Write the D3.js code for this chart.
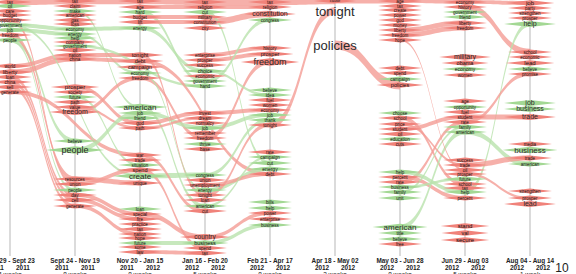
<!DOCTYPE html>
<html>
<head>
<meta charset="utf-8">
<script src="https://cdn.jsdelivr.net/npm/d3@7"></script>
<style>
  body { margin: 0; background: #fff; }
  svg { display: block; font-family: "Liberation Sans", Arial, sans-serif; }
</style>
</head>
<body>
<svg id="chart" width="576" height="274"></svg>
<script>
// time periods (columns)
var periods = ["Aug 29 - Sept 23", "Sept 24 - Nov 19", "Nov 20 - Jan 15", "Jan 16 - Feb 20",
    "Feb 21 - Apr 17", "Apr 18 - May 02", "May 03 - Jun 28", "Jun 29 - Aug 03", "Aug 04 - Aug 14"];
var startYears = ["2011", "2011", "2011", "2012", "2012", "2012", "2012", "2012", "2012"];
var endYears = ["2011", "2011", "2012", "2012", "2012", "2012", "2012", "2012", "2012"];
var spans = ["4 weeks", "8 weeks", "8 weeks", "5 weeks", "8 weeks", "2 weeks", "8 weeks", "5 weeks", "1 week"];

// words per column: [text, rank position, tone, font size]
var words0 = [["tax", 1, "r"], ["oil", 5, "g"], ["care", 10, "r"], ["budget", 14, "r"], ["opportunity", 19, "r"],
    ["government", 24, "g"], ["job", 29, "g"], ["freedom", 34, "r"], ["people", 39, "g"],
    ["world", 65, "r"], ["liberty", 71, "r", 5.5], ["loan", 76, "r"], ["china", 81, "r"], ["sell", 86, "r"], ["generate", 91, "r"]];
var words1 = [["tax", 0, "r"], ["claim", 5, "r"], ["make", 10, "g"], ["american", 14, "r"], ["gas", 19, "r"], ["loss", 23, "r"],
    ["economy", 28, "g"], ["energy", 33, "g"], ["help", 37, "g"], ["company", 41, "r"], ["government", 45, "g"],
    ["oil", 49, "r"], ["nation", 54, "r"], ["china", 58, "r"],
    ["prosper", 86, "r", 6], ["society", 91, "r"], ["future", 96, "g"], ["path", 101, "r"], ["value", 106, "r"], ["freedom", 111, "r", 7],
    ["believe", 140, "g"], ["people", 149, "g", 9],
    ["resources", 178, "r"], ["union", 183, "r"], ["people", 189, "g"], ["day", 194, "r"], ["cell", 199, "r"], ["generate", 205, "r"]];
var words2 = [["tax", 0, "r"], ["age", 6, "r"], ["hard", 11, "g"], ["budget", 16, "r"], ["lift", 21, "r"], ["energy", 27, "g"],
    ["tonight", 54, "r", 5.5], ["debt", 60, "r", 5.5], ["campaign", 66, "r", 5.5], ["economy", 72, "g"], ["freedom", 77, "r"],
    ["american", 106, "g", 8], ["job", 112, "g"], ["friend", 117, "g"], ["god", 122, "r"], ["path", 127, "r"],
    ["war", 154, "r"], ["trade", 159, "r"], ["situation", 164, "g"], ["spend", 169, "r", 5.5], ["create", 175, "g", 8], ["unique", 182, "r"],
    ["loan", 208, "g"], ["special", 213, "r"], ["fire", 218, "r"], ["practice", 223, "r"], ["tax", 228, "r"], ["nation", 233, "r"],
    ["hope", 237, "r"], ["future", 242, "g"], ["some", 246, "r"], ["law", 251, "r"]];
var words3 = [["tax", 1, "r"], ["religion", 6, "r"], ["cut", 11, "g"], ["military", 16, "r"], ["constitution", 21, "r"], ["city", 27, "r"],
    ["enterprise", 54, "r"], ["prosper", 59, "r"], ["success", 64, "r"], ["choice", 70, "g", 5], ["economic", 75, "r"],
    ["government", 80, "g"], ["hand", 85, "g"],
    ["invest", 112, "r"], ["dream", 117, "r"], ["normalcy", 122, "r"], ["job", 127, "g"], ["remember", 132, "r"], ["freedom", 137, "r"],
    ["thrive", 143, "g"], ["base", 148, "r"],
    ["congress", 174, "g"], ["union", 179, "r"], ["unemployment", 184, "r"], ["energy", 189, "g"], ["tonight", 194, "r"],
    ["loan", 199, "r"], ["american", 205, "g"], ["cut", 210, "r"],
    ["country", 236, "r", 6.5], ["business", 242, "g", 5.5], ["spend", 247, "r"], ["tax", 252, "r"]];
var words4 = [["tax", 1, "r"], ["religion", 6, "r"], ["constitution", 13, "r", 7], ["congress", 19, "g"],
    ["history", 47, "r"], ["prosper", 53, "r", 5.5], ["freedom", 61, "r", 9],
    ["believe", 89, "g"], ["idea", 94, "g"], ["fuel", 99, "r"], ["women", 104, "r"], ["economy", 109, "r"], ["job", 114, "g"],
    ["thank", 119, "g"], ["tonight", 124, "r"],
    ["rate", 151, "r"], ["campaign", 156, "g"], ["cut", 162, "g"], ["energy", 168, "g", 5], ["debt", 173, "r"],
    ["bills", 201, "g"], ["help", 207, "g"], ["power", 212, "r"], ["enterprise", 218, "r"], ["business", 224, "g"]];
var words5 = [["cause", 0, "r", 4], ["tonight", 10, "r", 13], ["policies", 44, "r", 13]];
var words6 = [["age", 0, "r"], ["tax", 5, "r"], ["create", 9, "r"], ["power", 14, "r"], ["god", 19, "r"], ["money", 24, "r"],
    ["liberty", 29, "r"], ["freedom", 34, "r"], ["hope", 39, "r"],
    ["debt", 67, "r"], ["spend", 72, "r"], ["campaign", 78, "g"], ["policies", 84, "r", 5.5],
    ["choose", 112, "g"], ["school", 117, "r"], ["price", 123, "r"], ["student", 128, "r"], ["oil", 133, "r"], ["education", 138, "g"], ["cuts", 143, "r"],
    ["help", 171, "g"], ["percent", 176, "r"], ["rate", 181, "r"], ["business", 186, "g"], ["family", 191, "g"], ["unit", 197, "g"],
    ["american", 226, "g", 8], ["title", 232, "g"], ["believe", 238, "g"], ["free", 243, "r"]];
var words7 = [["economy", 1, "r"], ["history", 6, "r"], ["government", 11, "g"], ["friend", 16, "g"], ["liberty", 22, "r"], ["freedom", 27, "r"],
    ["military", 56, "r", 7], ["obama", 62, "r", 5.5], ["economy", 68, "g", 5], ["women", 74, "r"],
    ["age", 100, "r"], ["opportunity", 106, "g"], ["fuel", 111, "r"], ["student", 116, "r"], ["rate", 121, "r"], ["family", 126, "g"], ["american", 131, "g"],
    ["success", 159, "r"], ["trade", 164, "r"], ["oil", 169, "r"], ["prosper", 173, "r"], ["future", 178, "g"], ["school", 183, "r"],
    ["tax", 187, "r"], ["help", 191, "g"], ["percent", 197, "r"],
    ["stand", 225, "r", 6], ["val", 232, "r", 5.5], ["secure", 239, "r", 6]];
var words8 = [["job", 2, "r", 6], ["party", 7, "r"], ["strengthen", 12, "r"], ["prosper", 17, "r"], ["help", 23, "g", 7],
    ["school", 51, "r"], ["economic", 56, "r"], ["lead", 62, "r", 6], ["believe", 68, "g"], ["promise", 73, "r"],
    ["job", 102, "g", 7], ["business", 108, "g", 7], ["trade", 116, "r", 7],
    ["media", 143, "r"], ["business", 149, "g", 8], ["trade", 157, "r"], ["american", 163, "g"],
    ["strengthen", 190, "r"], ["prosper", 197, "r"], ["lead", 203, "r", 7]];

// flows: [from column, word, to column, word, weight, tone]
var flows = [
    [0, "tax", 1, "tax", 5, "r"], [0, "government", 1, "economy", 3, "g"], [0, "job", 1, "energy", 3, "g"],
    [0, "people", 1, "believe", 4, "g"], [0, "people", 1, "people:2", 2.5, "g"], [0, "freedom", 1, "resources", 4, "r"],
    [0, "opportunity", 1, "union", 3, "r"], [0, "world", 1, "nation", 3, "r"], [0, "liberty", 1, "china", 4, "r"],
    [0, "loan", 1, "day", 3, "r"], [0, "china", 1, "cell", 3, "r"], [0, "sell", 1, "generate", 3, "r"],
    [0, "generate", 2, "war", 3, "r"], [0, "government", 2, "create", 2, "g"],
    [1, "tax", 2, "tax", 5, "r"], [1, "economy", 2, "energy", 3, "g"], [1, "energy", 2, "economy", 2, "g"],
    [1, "make", 2, "american", 2, "g"], [1, "nation", 2, "tonight", 3, "r"], [1, "china", 2, "debt", 3, "r"],
    [1, "prosper", 2, "god", 3, "r"], [1, "freedom", 2, "freedom", 3, "r"], [1, "value", 2, "path", 2, "r"],
    [1, "people", 2, "job", 4, "g"], [1, "resources", 2, "unique", 4, "r"], [1, "union", 2, "spend", 3, "r"],
    [1, "day", 2, "special", 3, "r"], [1, "cell", 2, "fire", 3, "r"], [1, "generate", 2, "nation", 3, "r"],
    [1, "government", 3, "hand", 2, "g"], [1, "future", 2, "situation", 2, "g"],
    [2, "tax", 3, "tax", 5, "r"], [2, "age", 3, "religion", 3, "r"], [2, "hard", 3, "government", 3, "g"],
    [2, "budget", 3, "military", 3, "r"], [2, "lift", 3, "constitution", 3, "r"], [2, "energy", 3, "choice", 3, "g"],
    [2, "tonight", 3, "tonight", 3, "r"], [2, "freedom", 3, "freedom", 3, "r"], [2, "american", 3, "american", 3, "g"],
    [2, "job", 3, "job", 3, "g"], [2, "god", 3, "invest", 3, "r"], [2, "path", 3, "dream", 2, "r"],
    [2, "create", 3, "congress", 4, "g"], [2, "war", 3, "cut:2", 3, "r"], [2, "spend", 3, "spend", 3, "r"],
    [2, "special", 3, "country", 4, "r"], [2, "future", 3, "business", 3, "g"], [2, "law", 3, "tax:2", 3, "r"],
    [2, "debt", 4, "debt", 3, "r"], [2, "economy", 3, "energy", 2, "g"],
    [3, "tax", 4, "tax", 5, "r"], [3, "religion", 4, "religion", 3, "r"], [3, "constitution", 4, "constitution", 5, "r"],
    [3, "cut", 4, "cut", 3, "g"], [3, "enterprise", 4, "history", 3, "r"], [3, "prosper", 4, "prosper", 3, "r"],
    [3, "government", 4, "congress", 3, "g"], [3, "invest", 4, "economy", 3, "r"], [3, "job", 4, "job", 3, "g"],
    [3, "freedom", 4, "freedom", 4, "r"], [3, "congress", 4, "thank", 3, "g"], [3, "energy", 4, "energy", 3, "g"],
    [3, "tonight", 4, "tonight", 3, "r"], [3, "unemployment", 4, "debt", 3, "r"], [3, "business", 4, "business", 3, "g"],
    [3, "american", 4, "campaign", 2, "g"], [3, "country", 4, "power", 3, "r"], [3, "choice", 4, "idea", 2, "g"],
    [4, "tax", 5, "cause", 5, "r"], [4, "tonight", 5, "tonight", 6, "r"],
    [5, "cause", 6, "age", 4, "r"], [5, "policies", 6, "policies", 7, "r"],
    [6, "age", 7, "economy", 3, "r"], [6, "liberty", 7, "liberty", 4, "r"], [6, "freedom", 7, "freedom", 4, "r"],
    [6, "school", 7, "school", 3, "r"], [6, "student", 7, "student", 3, "r"], [6, "rate", 7, "rate", 3, "r"],
    [6, "percent", 7, "percent", 3, "r"], [6, "help", 7, "help", 3, "g"], [6, "american", 7, "american", 4, "g"],
    [6, "family", 7, "family", 2, "g"], [6, "business", 7, "future", 2, "g"], [6, "price", 7, "trade", 2, "r"],
    [6, "hope", 7, "oil", 1.5, "r"],
    [7, "history", 8, "school", 5, "r"], [7, "help", 8, "help", 4, "g"], [7, "american", 8, "american", 4, "g"],
    [7, "trade", 8, "trade:2", 4, "r"], [7, "student", 8, "trade", 4, "r"], [7, "rate", 8, "promise", 3, "r"],
    [7, "economy", 8, "job", 3, "r"], [7, "prosper", 8, "prosper:2", 2, "r"]
];

var columns = [words0, words1, words2, words3, words4, words5, words6, words7, words8];

var ribbonFill = { r: "#f49c95", g: "#b9e2ad" };
var glyphFill = { r: "#f0827a", g: "#a3d894" };

var svg = d3.select("#chart");

var x = d3.scalePoint().domain(periods).range([10, 530]);
var y = d3.scaleLinear().domain([0, 255]).range([1, 256]);
var thick = d3.scaleLinear().domain([0, 7]).range([0, 9]);

function findWord(ci, name) {
    var parts = name.split(":");
    var nth = parts.length > 1 ? +parts[1] : 1;
    var hits = columns[ci].filter(function(w) { return w[0] === parts[0]; });
    return hits[nth - 1] || hits[0];
}

// vertical time lines
svg.append("g").selectAll("line")
    .data(periods)
    .enter()
    .append("line")
    .attr("x1", function(d) { return x(d); })
    .attr("x2", function(d) { return x(d); })
    .attr("y1", 0)
    .attr("y2", 256)
    .style("stroke", "#9a9a9a")
    .style("stroke-width", 0.7);

// ribbons
function ribbon(f) {
    var a = findWord(f[0], f[1]), b = findWord(f[2], f[3]);
    var x1 = x(periods[f[0]]), x2 = x(periods[f[2]]);
    var y1 = y(a[1]), y2 = y(b[1]);
    var h = thick(f[4]) / 2, xm = (x1 + x2) / 2;
    return "M" + x1 + "," + (y1 - h) +
        "C" + xm + "," + (y1 - h) + " " + xm + "," + (y2 - h) + " " + x2 + "," + (y2 - h) +
        "L" + x2 + "," + (y2 + h) +
        "C" + xm + "," + (y2 + h) + " " + xm + "," + (y1 + h) + " " + x1 + "," + (y1 + h) + "Z";
}

svg.append("g").selectAll("path")
    .data(flows)
    .enter()
    .append("path")
    .attr("d", ribbon)
    .style("fill", function(d) { return ribbonFill[d[5]]; })
    .style("fill-opacity", 0.8);

// word glyphs + labels
var cells = [];
columns.forEach(function(col, ci) {
    col.forEach(function(w) {
        cells.push({ col: ci, text: w[0], pos: w[1], tone: w[2], size: w[3] || 4.5 });
    });
});

svg.append("g").selectAll("path")
    .data(cells.filter(function(d) { return d.size < 12; }))
    .enter()
    .append("path")
    .attr("d", function(d) {
        var cx = x(periods[d.col]), cy = y(d.pos);
        var hw = 22 + (d.size - 4.5) * 1.6, hh = 1.2 + d.size * 0.27;
        return "M" + (cx - hw) + "," + cy + "L" + cx + "," + (cy - hh) + "L" + (cx + hw) + "," + cy +
            "L" + cx + "," + (cy + hh) + "Z";
    })
    .style("fill", function(d) { return glyphFill[d.tone]; });

svg.append("g").selectAll("text")
    .data(cells)
    .enter()
    .append("text")
    .attr("x", function(d) { return x(periods[d.col]); })
    .attr("y", function(d) { return y(d.pos); })
    .attr("dy", "0.35em")
    .attr("text-anchor", "middle")
    .style("font-size", function(d) { return d.size + "px"; })
    .style("fill", function(d) { return d.size > 6 ? "#2a2a2a" : "#111"; })
    .text(function(d) { return d.text; });

// period labels along the bottom
var labels = svg.append("g").selectAll("g")
    .data(periods)
    .enter()
    .append("g")
    .attr("transform", function(d) { return "translate(" + x(d) + ",0)"; })
    .style("font-weight", "bold")
    .style("font-size", "6.4px")
    .style("fill", "#222");

labels.append("text")
    .attr("y", 263)
    .attr("text-anchor", "middle")
    .text(function(d) { return d; });

labels.append("text")
    .attr("x", -13)
    .attr("y", 269.5)
    .attr("text-anchor", "middle")
    .text(function(d, i) { return startYears[i]; });

labels.append("text")
    .attr("x", 13)
    .attr("y", 269.5)
    .attr("text-anchor", "middle")
    .text(function(d, i) { return endYears[i]; });

labels.append("text")
    .attr("y", 277)
    .attr("text-anchor", "middle")
    .style("font-weight", "normal")
    .text(function(d, i) { return spans[i]; });

svg.append("text")
    .attr("x", 562)
    .attr("y", 272)
    .attr("text-anchor", "middle")
    .style("font-size", "12px")
    .style("fill", "#222")
    .text("10");
</script>
</body>
</html>
